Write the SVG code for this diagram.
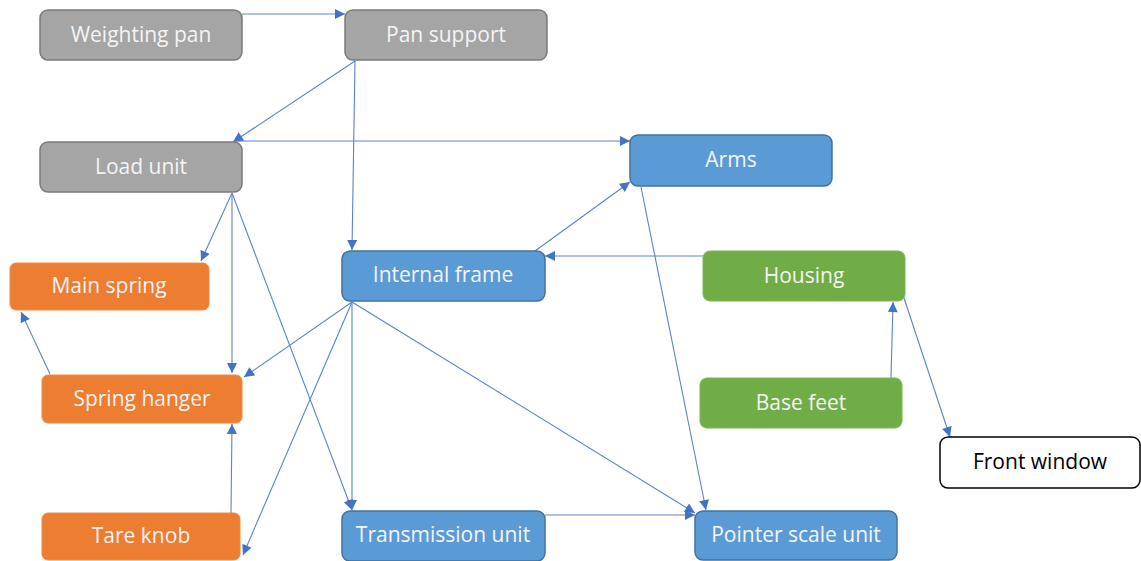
<svg xmlns="http://www.w3.org/2000/svg" width="1141" height="561" viewBox="0 0 1141 561">
<style>
.n text{font-family:"Open Sans","Liberation Sans",sans-serif;font-size:21px;text-anchor:middle;dominant-baseline:central;fill:#F4F4F4}
.gray rect{fill:#A5A5A5;stroke:#7B7B7B;stroke-width:1.5}
.blue rect{fill:#5B9BD5;stroke:#41719C;stroke-width:1.5}
.orange rect{fill:#ED7D31;stroke:#F08A45;stroke-width:1}
.green rect{fill:#70AD47;stroke:#7CB556;stroke-width:1}
.white rect{fill:#FFFFFF;stroke:#000000;stroke-width:1.5}
.white text{fill:#000000}
#connectors line{stroke:#5A84C8;stroke-width:1.1;fill:none;marker-end:url(#arr)}
</style>
<defs>
<marker id="arr" markerUnits="userSpaceOnUse" viewBox="0 0 10 10" refX="10" refY="5" markerWidth="11" markerHeight="10" orient="auto">
<path d="M0,0 L10,5 L0,10 z" fill="#4472C4"/>
</marker>
</defs>
<g id="connectors">
<line x1="242" y1="14" x2="345" y2="14"/>
<line x1="355" y1="61" x2="233" y2="142"/>
<line x1="355" y1="61" x2="352" y2="250"/>
<line x1="235" y1="141" x2="630" y2="141"/>
<line x1="232" y1="193" x2="201" y2="261"/>
<line x1="232" y1="193" x2="232" y2="373"/>
<line x1="232" y1="193" x2="352" y2="510"/>
<line x1="535" y1="251" x2="630" y2="182"/>
<line x1="703" y1="256" x2="545" y2="256"/>
<line x1="641" y1="187" x2="706" y2="510"/>
<line x1="352" y1="302" x2="244" y2="377"/>
<line x1="352" y1="302" x2="243" y2="555"/>
<line x1="352" y1="302" x2="352" y2="510"/>
<line x1="352" y1="302" x2="695" y2="513"/>
<line x1="545" y1="515" x2="695" y2="515"/>
<line x1="891" y1="378" x2="893" y2="302"/>
<line x1="904" y1="298" x2="950" y2="437"/>
<line x1="50" y1="374" x2="21" y2="312"/>
<line x1="231" y1="513" x2="232" y2="424"/>
</g>
<g id="weighting-pan" class="n gray"><rect x="40" y="10" width="202" height="50" rx="8"/><text x="141" y="34">Weighting pan</text></g>
<g id="pan-support" class="n gray"><rect x="345" y="10" width="202" height="50" rx="8"/><text x="446" y="34">Pan support</text></g>
<g id="load-unit" class="n gray"><rect x="40" y="142" width="202" height="50" rx="8"/><text x="141" y="166">Load unit</text></g>
<g id="arms" class="n blue"><rect x="630" y="135" width="202" height="51" rx="8"/><text x="731" y="159">Arms</text></g>
<g id="main-spring" class="n orange"><rect x="10" y="263" width="199" height="47" rx="6"/><text x="109" y="285">Main spring</text></g>
<g id="internal-frame" class="n blue"><rect x="342" y="251" width="203" height="50" rx="8"/><text x="443" y="274">Internal frame</text></g>
<g id="housing" class="n green"><rect x="703" y="251" width="202" height="50" rx="7"/><text x="804" y="275">Housing</text></g>
<g id="spring-hanger" class="n orange"><rect x="42" y="375" width="200" height="48" rx="6"/><text x="142" y="398">Spring hanger</text></g>
<g id="base-feet" class="n green"><rect x="700" y="378" width="202" height="50" rx="7"/><text x="801" y="402">Base feet</text></g>
<g id="front-window" class="n white"><rect x="940" y="437" width="200" height="51" rx="8"/><text x="1040" y="461">Front window</text></g>
<g id="tare-knob" class="n orange"><rect x="42" y="513" width="198" height="47" rx="6"/><text x="141" y="535">Tare knob</text></g>
<g id="transmission-unit" class="n blue"><rect x="342" y="511" width="203" height="50" rx="8"/><text x="443" y="534">Transmission unit</text></g>
<g id="pointer-scale-unit" class="n blue"><rect x="695" y="511" width="202" height="49" rx="8"/><text x="796" y="534">Pointer scale unit</text></g>
</svg>
